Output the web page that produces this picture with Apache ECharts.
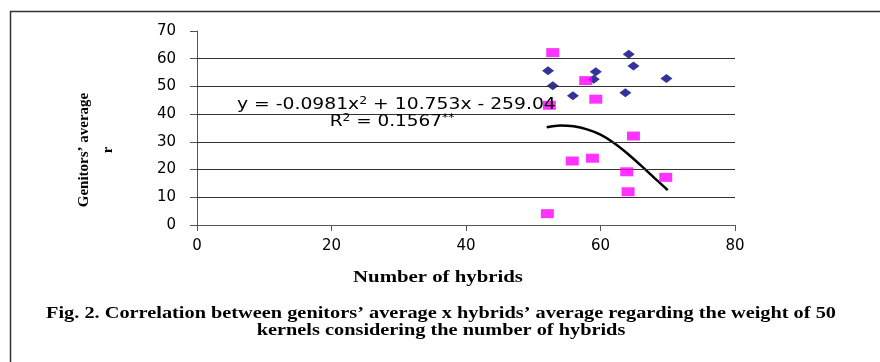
<!DOCTYPE html>
<html lang="en">

<head>
    <meta charset="UTF-8">
    <title>Genitors' average vs number of hybrids</title>
    <script src="https://cdn.jsdelivr.net/npm/echarts@6/dist/echarts.min.js"></script>
    <style>
        body {
            margin: 0;
            background: #fff;
        }

        #root {
            width: 880px;
            height: 362px;
        }
    </style>
</head>

<body>

    <div id="root"></div>
    <script>

        // genitors' average (blue diamonds)
        var genitorsData = [
            [52.2, 55.7], [52.9, 50.2], [55.9, 46.6], [59.3, 55.3], [59.0, 52.6],
            [64.2, 61.6], [64.9, 57.4], [63.7, 47.7], [69.8, 52.9]
        ];

        // hybrids' average (magenta squares)
        var hybridsData = [
            [52.9, 62.2], [57.8, 52.1], [52.4, 43.2], [59.3, 45.4], [64.9, 32.1],
            [55.8, 23.1], [58.8, 24.1], [63.9, 19.2], [69.7, 17.2], [64.1, 12.0],
            [52.1, 4.1]
        ];

        // points
        var trendData = [
            [52, 35.3], [54, 35.9], [56, 35.6], [58, 34.5], [60, 32.6],
            [62, 29.6], [64, 25.8], [66, 21.5], [68, 17.0], [70, 12.6]
        ];

        var gridLevels = [10, 20, 30, 40, 50, 60];

        var mychart = echarts.init(document.getElementById('root'));

        var labelFont = 'DejaVu Sans';
        var serif = 'Liberation Serif';

        // the source figure is stretched sideways, so texts get a scaleX
        var stretch = 1.27;

        mychart.setOption({
            animation: false,
            backgroundColor: '#fff',
            grid: {
                left: 197,
                right: 145,
                top: 31,
                bottom: 137
            },
            xAxis: {
                type: 'value',
                min: 0,
                max: 80,
                interval: 20,
                axisLine: { lineStyle: { color: '#555', width: 1 } },
                axisTick: { show: true, length: 6, lineStyle: { color: '#555' } },
                axisLabel: { color: '#000', fontFamily: labelFont, fontSize: 15, margin: 14 },
                splitLine: { show: false }
            },
            yAxis: {
                type: 'value',
                min: 0,
                max: 70,
                interval: 10,
                axisLine: { show: true, lineStyle: { color: '#555', width: 1 } },
                axisTick: { show: true, length: 7, lineStyle: { color: '#555' } },
                axisLabel: { color: '#000', fontFamily: labelFont, fontSize: 15, margin: 21 },
                splitLine: { show: false }
            },
            series: [{
                type: 'line',
                data: trendData,
                smooth: 0.3,
                showSymbol: false,
                lineStyle: { color: '#000', width: 2.5 },
                z: 3,
                markLine: {
                    silent: true,
                    symbol: 'none',
                    label: { show: false },
                    lineStyle: { color: '#333', width: 1, type: 'solid' },
                    data: gridLevels.map(function (v) { return { yAxis: v }; })
                }
            }, {
                type: 'scatter',
                data: genitorsData,
                symbol: 'diamond',
                symbolSize: [12, 9],
                itemStyle: { color: '#00007f' },
                z: 4
            }, {
                type: 'scatter',
                data: hybridsData,
                symbol: 'rect',
                symbolSize: [13, 9],
                itemStyle: { color: '#ff00ff' },
                z: 5
            }],
            graphic: [{
                // outer frame (right and bottom cut off)
                type: 'rect',
                shape: { x: 10.5, y: 11.5, width: 1000, height: 1000 },
                style: { fill: 'none', stroke: '#333', lineWidth: 1.5 },
                silent: true
            }, {
                type: 'text',
                x: 237,
                y: 105,
                scaleX: 1.25,
                style: {
                    text: '{a|y = -0.0981x}{s|2}{a| + 10.753x - 259.04}',
                    verticalAlign: 'middle',
                    rich: {
                        a: { fontFamily: labelFont, fontSize: 15, fill: '#000' },
                        s: { fontFamily: labelFont, fontSize: 10, fill: '#000', verticalAlign: 'top', padding: [0, 0, 8, 0] }
                    }
                },
                z: 10
            }, {
                type: 'text',
                x: 392,
                y: 122,
                scaleX: 1.23,
                style: {
                    text: '{a|R}{s|2}{a| = 0.1567}{s|**}',
                    align: 'center',
                    verticalAlign: 'middle',
                    rich: {
                        a: { fontFamily: labelFont, fontSize: 15, fill: '#000' },
                        s: { fontFamily: labelFont, fontSize: 10, fill: '#000', verticalAlign: 'top', padding: [0, 0, 8, 0] }
                    }
                },
                z: 10
            }, {
                type: 'text',
                x: 96,
                y: 150,
                rotation: Math.PI / 2,
                style: {
                    text: 'Genitors’ average\nr',
                    align: 'center',
                    verticalAlign: 'middle',
                    fontFamily: serif,
                    fontWeight: 'bold',
                    fontSize: 15,
                    lineHeight: 24,
                    fill: '#000'
                }
            }, {
                type: 'text',
                x: 438,
                y: 278,
                scaleX: 1.3,
                style: {
                    text: 'Number of hybrids',
                    align: 'center',
                    verticalAlign: 'middle',
                    fontFamily: serif,
                    fontWeight: 'bold',
                    fontSize: 16,
                    fill: '#000'
                }
            }, {
                type: 'text',
                x: 441,
                y: 322,
                scaleX: stretch,
                style: {
                    text: 'Fig. 2. Correlation between genitors’ average x hybrids’ average regarding the weight of 50\nkernels considering the number of hybrids',
                    align: 'center',
                    verticalAlign: 'middle',
                    fontFamily: serif,
                    fontWeight: 'bold',
                    fontSize: 16,
                    lineHeight: 17,
                    fill: '#000'
                }
            }]
        });

    </script>

</body>

</html>
